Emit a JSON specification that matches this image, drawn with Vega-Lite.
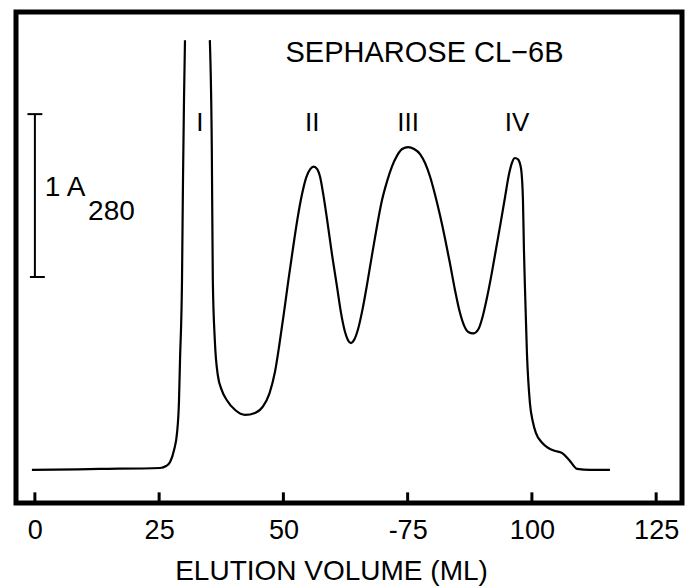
{
  "$schema": "https://vega.github.io/schema/vega-lite/v6.json",
  "width": 666,
  "height": 491,
  "autosize": {"type": "none"},
  "padding": {"left": 16, "top": 12, "right": 4, "bottom": 84},
  "background": "white",
  "config": {
    "view": {"stroke": "black", "strokeWidth": 5},
    "font": "Liberation Sans"
  },
  "datasets": {
    "curve": [
      {"v": -0.6, "a": 0.202, "seg": 1},
      {"v": 13.1, "a": 0.208, "seg": 1},
      {"v": 25.2, "a": 0.214, "seg": 1},
      {"v": 26.4, "a": 0.226, "seg": 1},
      {"v": 27.2, "a": 0.25, "seg": 1},
      {"v": 28.0, "a": 0.324, "seg": 1},
      {"v": 28.6, "a": 0.428, "seg": 1},
      {"v": 29.0, "a": 0.629, "seg": 1},
      {"v": 29.2, "a": 0.874, "seg": 1},
      {"v": 29.6, "a": 1.362, "seg": 1},
      {"v": 29.8, "a": 1.973, "seg": 1},
      {"v": 30.0, "a": 2.462, "seg": 1},
      {"v": 30.2, "a": 2.828, "seg": 1},
      {"v": 35.2, "a": 2.828, "seg": 2},
      {"v": 35.6, "a": 2.156, "seg": 2},
      {"v": 35.8, "a": 1.362, "seg": 2},
      {"v": 36.2, "a": 0.996, "seg": 2},
      {"v": 36.8, "a": 0.782, "seg": 2},
      {"v": 37.6, "a": 0.69, "seg": 2},
      {"v": 38.6, "a": 0.629, "seg": 2},
      {"v": 40.3, "a": 0.568, "seg": 2},
      {"v": 42.3, "a": 0.538, "seg": 2},
      {"v": 44.3, "a": 0.55, "seg": 2},
      {"v": 45.9, "a": 0.59, "seg": 2},
      {"v": 47.2, "a": 0.67, "seg": 2},
      {"v": 48.3, "a": 0.8, "seg": 2},
      {"v": 49.2, "a": 0.97, "seg": 2},
      {"v": 50.1, "a": 1.16, "seg": 2},
      {"v": 51.0, "a": 1.36, "seg": 2},
      {"v": 51.9, "a": 1.55, "seg": 2},
      {"v": 52.8, "a": 1.73, "seg": 2},
      {"v": 53.7, "a": 1.88, "seg": 2},
      {"v": 54.6, "a": 1.99, "seg": 2},
      {"v": 55.4, "a": 2.04, "seg": 2},
      {"v": 56.1, "a": 2.055, "seg": 2},
      {"v": 56.8, "a": 2.04, "seg": 2},
      {"v": 57.4, "a": 1.99, "seg": 2},
      {"v": 58.0, "a": 1.89, "seg": 2},
      {"v": 58.8, "a": 1.73, "seg": 2},
      {"v": 59.8, "a": 1.515, "seg": 2},
      {"v": 60.8, "a": 1.319, "seg": 2},
      {"v": 61.6, "a": 1.16, "seg": 2},
      {"v": 62.4, "a": 1.045, "seg": 2},
      {"v": 63.0, "a": 0.995, "seg": 2},
      {"v": 63.6, "a": 0.977, "seg": 2},
      {"v": 64.2, "a": 0.995, "seg": 2},
      {"v": 65.0, "a": 1.06, "seg": 2},
      {"v": 65.9, "a": 1.18, "seg": 2},
      {"v": 66.8, "a": 1.33, "seg": 2},
      {"v": 67.8, "a": 1.51, "seg": 2},
      {"v": 68.8, "a": 1.686, "seg": 2},
      {"v": 69.8, "a": 1.845, "seg": 2},
      {"v": 70.9, "a": 1.97, "seg": 2},
      {"v": 71.9, "a": 2.06, "seg": 2},
      {"v": 72.9, "a": 2.124, "seg": 2},
      {"v": 73.9, "a": 2.163, "seg": 2},
      {"v": 75.1, "a": 2.175, "seg": 2},
      {"v": 76.3, "a": 2.163, "seg": 2},
      {"v": 77.5, "a": 2.132, "seg": 2},
      {"v": 78.5, "a": 2.077, "seg": 2},
      {"v": 79.5, "a": 1.995, "seg": 2},
      {"v": 80.5, "a": 1.885, "seg": 2},
      {"v": 81.5, "a": 1.759, "seg": 2},
      {"v": 82.5, "a": 1.619, "seg": 2},
      {"v": 83.5, "a": 1.466, "seg": 2},
      {"v": 84.5, "a": 1.305, "seg": 2},
      {"v": 85.5, "a": 1.165, "seg": 2},
      {"v": 86.4, "a": 1.081, "seg": 2},
      {"v": 87.2, "a": 1.045, "seg": 2},
      {"v": 88.2, "a": 1.036, "seg": 2},
      {"v": 89.2, "a": 1.06, "seg": 2},
      {"v": 90.1, "a": 1.14, "seg": 2},
      {"v": 91.0, "a": 1.26, "seg": 2},
      {"v": 91.9, "a": 1.4, "seg": 2},
      {"v": 92.8, "a": 1.555, "seg": 2},
      {"v": 93.7, "a": 1.71, "seg": 2},
      {"v": 94.6, "a": 1.87, "seg": 2},
      {"v": 95.4, "a": 2.01, "seg": 2},
      {"v": 96.0, "a": 2.08, "seg": 2},
      {"v": 96.6, "a": 2.108, "seg": 2},
      {"v": 97.2, "a": 2.1, "seg": 2},
      {"v": 97.8, "a": 2.046, "seg": 2},
      {"v": 98.2, "a": 1.851, "seg": 2},
      {"v": 98.4, "a": 1.546, "seg": 2},
      {"v": 98.6, "a": 1.319, "seg": 2},
      {"v": 99.0, "a": 0.916, "seg": 2},
      {"v": 99.6, "a": 0.611, "seg": 2},
      {"v": 100.2, "a": 0.495, "seg": 2},
      {"v": 100.8, "a": 0.428, "seg": 2},
      {"v": 102.1, "a": 0.367, "seg": 2},
      {"v": 103.3, "a": 0.336, "seg": 2},
      {"v": 104.7, "a": 0.318, "seg": 2},
      {"v": 106.1, "a": 0.305, "seg": 2},
      {"v": 107.5, "a": 0.263, "seg": 2},
      {"v": 109.1, "a": 0.208, "seg": 2},
      {"v": 111.7, "a": 0.202, "seg": 2},
      {"v": 115.7, "a": 0.202, "seg": 2}
    ],
    "ticks": [
      {"v": 0}, {"v": 25}, {"v": 50}, {"v": 75}, {"v": 100}, {"v": 125}
    ],
    "bar": [
      {"v": 0.0, "a1": 1.381, "a2": 2.376}
    ],
    "serifs": [
      {"v1": -1.5, "v2": 1.5, "a": 2.376},
      {"v1": -1.0, "v2": 2.0, "a": 1.381}
    ],
    "labels": [
      {"v": 33.2, "a": 2.321, "text": "I", "size": 26},
      {"v": 55.8, "a": 2.324, "text": "II", "size": 26},
      {"v": 75.1, "a": 2.324, "text": "III", "size": 26},
      {"v": 97.0, "a": 2.324, "text": "IV", "size": 26},
      {"v": 78.4, "a": 2.749, "text": "SEPHAROSE CL−6B", "size": 29}
    ],
    "sub": [
      {"v": 2.0, "a": 1.924, "text": "1 A"},
      {"v": 10.7, "a": 1.778, "text": "280"}
    ]
  },
  "layer": [
    {
      "data": {"name": "curve"},
      "mark": {"type": "line", "color": "black", "strokeWidth": 2.2, "interpolate": "monotone", "clip": true},
      "encoding": {
        "x": {
          "field": "v", "type": "quantitative",
          "scale": {"domain": [-3.8, 130.2], "nice": false, "zero": false},
          "axis": {
            "values": [0, 25, 50, 75, 100, 125],
            "labelExpr": "datum.value == 75 ? '-75' : datum.label",
            "domain": false,
            "grid": false,
            "ticks": false,
            "labelFont": "Liberation Sans",
            "labelFontSize": 27,
            "labelColor": "black",
            "labelPadding": 14,
            "title": "ELUTION VOLUME (ML)",
            "titleFont": "Liberation Sans",
            "titleFontSize": 28,
            "titleFontWeight": "normal",
            "titleColor": "black",
            "titlePadding": 14,
            "titleX": 315
          }
        },
        "y": {
          "field": "a", "type": "quantitative",
          "scale": {"domain": [0, 3], "nice": false, "zero": false},
          "axis": null
        },
        "detail": {"field": "seg"}
      }
    },
    {
      "data": {"name": "ticks"},
      "mark": {"type": "rule", "color": "black", "strokeWidth": 3},
      "encoding": {
        "x": {"field": "v", "type": "quantitative"},
        "y": {"datum": 0, "type": "quantitative"},
        "y2": {"datum": 0.065}
      }
    },
    {
      "data": {"name": "bar"},
      "mark": {"type": "rule", "color": "black", "strokeWidth": 2},
      "encoding": {
        "x": {"field": "v", "type": "quantitative"},
        "y": {"field": "a1", "type": "quantitative"},
        "y2": {"field": "a2"}
      }
    },
    {
      "data": {"name": "serifs"},
      "mark": {"type": "rule", "color": "black", "strokeWidth": 2},
      "encoding": {
        "x": {"field": "v1", "type": "quantitative"},
        "x2": {"field": "v2"},
        "y": {"field": "a", "type": "quantitative"}
      }
    },
    {
      "data": {"name": "labels"},
      "mark": {"type": "text", "color": "black", "baseline": "middle", "font": "Liberation Sans"},
      "encoding": {
        "x": {"field": "v", "type": "quantitative"},
        "y": {"field": "a", "type": "quantitative"},
        "text": {"field": "text"},
        "size": {"field": "size", "type": "quantitative", "scale": null}
      }
    },
    {
      "data": {"name": "sub"},
      "mark": {"type": "text", "color": "black", "baseline": "middle", "align": "left", "font": "Liberation Sans", "fontSize": 28},
      "encoding": {
        "x": {"field": "v", "type": "quantitative"},
        "y": {"field": "a", "type": "quantitative"},
        "text": {"field": "text"}
      }
    }
  ]
}
